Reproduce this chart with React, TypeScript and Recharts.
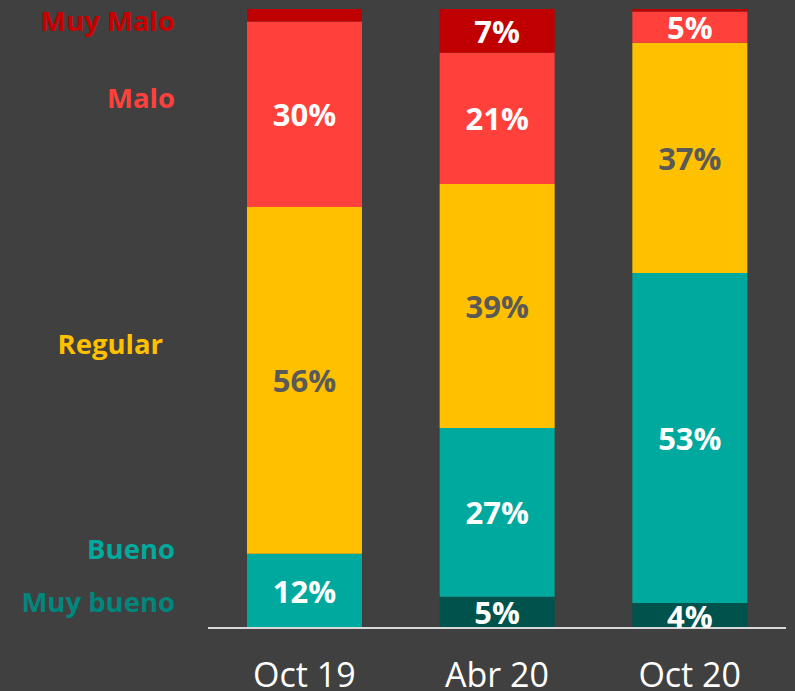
import React from "react";
import { Bar, BarChart, LabelList, XAxis, YAxis } from "recharts";

const periods = ["Oct 19", "Abr 20", "Oct 20"];
const muyBueno = [0, 5, 4];
const bueno = [12, 27, 53];
const regular = [56, 39, 37];
const malo = [30, 21, 5];
const muyMalo = [2, 7, 0.4];

const data = periods.map((p, i) => ({
  period: p,
  muyBueno: muyBueno[i],
  bueno: bueno[i],
  regular: regular[i],
  malo: malo[i],
  muyMalo: muyMalo[i],
}));

const series = [
  { key: "muyBueno", color: "#00524C", label: "#FFFFFF" },
  { key: "bueno", color: "#00A99D", label: "#FFFFFF" },
  { key: "regular", color: "#FFC000", label: "#595959" },
  { key: "malo", color: "#FF403B", label: "#FFFFFF" },
  { key: "muyMalo", color: "#C00000", label: "#FFFFFF" },
];

const sideLabels = [
  { text: "Muy Malo", color: "#C80000", right: 175, baseline: 31 },
  { text: "Malo", color: "#FF403B", right: 175, baseline: 108 },
  { text: "Regular", color: "#FFC000", right: 163, baseline: 354 },
  { text: "Bueno", color: "#00A99D", right: 175, baseline: 559 },
  { text: "Muy bueno", color: "#00877D", right: 175, baseline: 612 },
];

const FONT = "'Open Sans', sans-serif";

function SegmentLabel(props: any) {
  const { x, y, width, height, value, fill } = props;
  if (value == null || value < 3) return null;
  return (
    <text
      x={x + width / 2}
      y={y + height / 2}
      textAnchor="middle"
      dominantBaseline="central"
      fill={fill}
      style={{ fontFamily: FONT, fontWeight: 700, fontSize: 31 }}
    >
      {`${value}%`}
    </text>
  );
}

export default function App() {
  return (
    <div style={{ position: "relative", width: 795, height: 691, background: "#404040", overflow: "hidden" }}>
      <style>{`body{margin:0;}`}</style>
      <BarChart
        width={795}
        height={691}
        data={data}
        stackOffset="expand"
        margin={{ top: 9, right: 9, bottom: 0, left: 208 }}
      >
        <YAxis hide domain={[0, 1]} />
        {series.map((s) => (
          <Bar
            key={s.key}
            dataKey={s.key}
            stackId="a"
            fill={s.color}
            barSize={115}
            isAnimationActive={false}
          >
            <LabelList
              dataKey={s.key}
              content={(p: any) => <SegmentLabel {...p} fill={s.label} />}
            />
          </Bar>
        ))}
        <XAxis
          dataKey="period"
          height={63}
          axisLine={{ stroke: "#D9D9D9", strokeWidth: 2 }}
          tickLine={false}
          tickMargin={29}
          tick={{ fill: "#FFFFFF", fontSize: 34, fontFamily: FONT }}
        />
      </BarChart>
      <svg
        width={200}
        height={691}
        style={{ position: "absolute", left: 0, top: 0, pointerEvents: "none" }}
      >
        {sideLabels.map((l) => (
          <text
            key={l.text}
            x={l.right}
            y={l.baseline}
            textAnchor="end"
            fill={l.color}
            style={{ fontFamily: FONT, fontWeight: 700, fontSize: 27.5 }}
          >
            {l.text}
          </text>
        ))}
      </svg>
    </div>
  );
}
